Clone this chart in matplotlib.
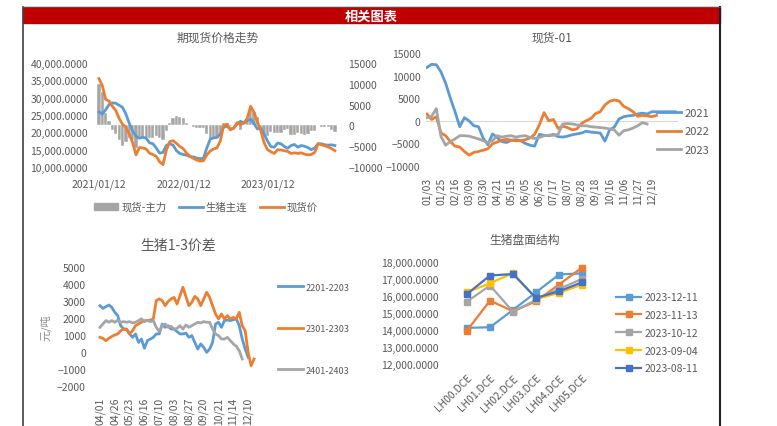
import matplotlib
matplotlib.use("Agg")
import matplotlib.pyplot as plt
import matplotlib.patches as mpatches
import matplotlib.dates as mdates
import numpy as np
import pandas as pd

plt.rcParams['font.family'] = ['Noto Sans CJK SC', 'DejaVu Sans']

BLUE = '#5B9BD5'
ORANGE = '#ED7D31'
GRAY = '#A5A5A5'
YELLOW = '#FFC000'
DBLUE = '#4472C4'
TXT = '#595959'

# ---- 期现货价格走势 (约每两周一个点, 2021/01/12 - 2023/10/27)
dates1 = pd.date_range('2021-01-12', '2023-10-27', periods=71)
futures_main = [25900, 25300, 26500, 28000, 28500, 28400, 27800, 27200, 25300, 22600,
                20400, 18900, 18300, 18600, 18300, 17000, 16700, 15500, 14000, 14200,
                16200, 16700, 16300, 14700, 13900, 13600, 13400, 13000, 12900, 12600,
                12400, 12500, 15500, 18000, 18400, 18500, 19500, 21500, 21800, 20900,
                21200, 22400, 23200, 22600, 23300, 23800, 22500, 21000, 21200, 19500,
                17500, 15900, 15700, 16900, 16700, 15900, 15400, 16200, 16500, 15700,
                16200, 16000, 15600, 15000, 15500, 16700, 16700, 16400, 16300, 16400,
                16200]
spot_price = [35500, 33500, 29500, 29000, 27500, 26300, 24000, 22300, 21500, 19500,
              17000, 13500, 15600, 15500, 15200, 14000, 13600, 13100, 11500, 10700,
              14800, 17300, 17600, 16800, 15900, 15300, 14000, 13100, 12500, 12000,
              11700, 11800, 13500, 14600, 15200, 15500, 17500, 22000, 22300, 20700,
              21300, 22800, 22200, 22800, 24000, 27500, 25800, 23000, 20500, 17000,
              15000, 14400, 13900, 15000, 14900, 14700, 14500, 13900, 14100, 13900,
              14100, 13700, 13500, 13600, 14200, 16700, 16400, 16100, 15800, 15300,
              14700]
basis = [10000, 8000, 3000, 1000, -1000, -2000, -3500, -5000, -4000, -3000,
         -3500, -5500, -2800, -3000, -3200, -3000, -3100, -2600, -3000, -3500,
         -1400, 600, 1800, 2200, 2000, 1700, 600, 100, -400, -600,
         -700, -700, -2000, -3400, -3200, -3000, -2000, 500, 500, -200,
         100, 400, -1000, 200, 700, 3700, 3300, 2000, -700, -2500,
         -2500, -1500, -1800, -1900, -1800, -1200, -900, -2300, -2400, -1800,
         -2100, -2300, -2100, -1400, -1300, 0, -300, -300, -500, -1100,
         -1500]

# ---- 现货-01 (每5个交易日一个点)
lab2 = ['01/03', '01/25', '02/16', '03/09', '03/30', '04/21', '05/15', '06/05', '06/26',
        '07/17', '08/07', '08/28', '09/18', '10/16', '11/06', '11/27', '12/19']
s2021 = [11800, 12500, 12400, 10800, 8300, 5000, 2000, -1300, 700, 0,
         -1100, -1300, -3800, -5300, -2900, -3700, -4600, -4800, -4300, -4200,
         -4400, -5000, -5400, -5600, -3000, -3200, -3300, -3000, -3500, -3600,
         -3400, -3100, -2900, -2700, -2300, -2500, -2600, -2700, -4500, -2000,
         -1400, 400, 900, 1100, 1200, 1500, 1700, 1500, 2000, 2000,
         2000, 2000, 2000, 2000]
s2022 = [1500, 300, 900, -2700, -3300, -4600, -5600, -5800, -6800, -7600,
         -7000, -6800, -6500, -6200, -5100, -4700, -4300, -4100, -4300, -4400,
         -4400, -4200, -3800, -3000, -900, 1800, 0, 300, -1700, -1200,
         -1500, -2000, -1800, -600, 0, 500, 1600, 2000, 3500, 4300,
         4600, 4400, 3200, 2700, 2000, 1000, 1200, 1100, 900, 1200]
s2023 = [700, 1000, 2700, -3500, -5400, -4600, -4000, -3300, -3300, -3400,
         -3700, -4000, -4400, -4800, -4400, -3300, -3600, -3400, -3300, -3600,
         -3400, -3300, -3700, -3900, -3700, -3300, -3200, -3200, -3000, -700,
         -600, -700, -900, -1100, -1100, -1300, -1400, -1500, -1600, -1800,
         -2000, -3200, -2200, -2000, -1600, -1100, -400, -700]

# ---- 生猪1-3价差
lab3 = ['04/01', '04/26', '05/23', '06/16', '07/10', '08/03', '08/27', '09/20',
        '10/21', '11/14', '12/10']
sp2201 = [2730, 2570, 2670, 2770, 2630, 2340, 2140, 1550, 1350, 1350,
          1060, 860, 1060, 560, 760, 210, 660, 760, 860, 1060,
          1060, 1650, 1450, 1550, 1350, 1350, 1200, 1060, 1060, 1110,
          860, 960, 560, 170, 470, 270, -30, 170, 560, 1650,
          1750, 1450, 1850, 1880, 1850, 1900, 1950, 1550, 760, 170,
          -320]
sp2301 = [860, 800, 660, 800, 910, 1000, 1060, 1250, 1350, 1310,
          1060, 1250, 1550, 1650, 1750, 1850, 1850, 1880, 1950, 3030,
          3130, 3030, 2730, 2980, 3130, 3220, 2830, 3320, 3820, 3280,
          2730, 2930, 3280, 3130, 2730, 3130, 3520, 3220, 2730, 2240,
          1950, 2240, 1950, 2140, 1950, 2040, 1950, 2340, 1550, 1250,
          -30, -820, -420]
sp2401 = [1450, 1650, 1850, 1750, 1850, 1750, 1880, 1750, 1790, 1750,
          1790, 1710, 1750, 1850, 1950, 1790, 1850, 1790, 1850, 1450,
          1200, 1550, 1650, 1450, 1510, 1350, 1390, 1550, 1350, 1590,
          1450, 1550, 1650, 1750, 1710, 1790, 1750, 1750, 1350, 1060,
          960, 760, 760, 860, 660, 470, 330, 70, -420]

# ---- 生猪盘面结构
contracts = ['LH00.DCE', 'LH01.DCE', 'LH02.DCE', 'LH03.DCE', 'LH04.DCE', 'LH05.DCE']
curve_names = ['2023-12-11', '2023-11-13', '2023-10-12', '2023-09-04', '2023-08-11']
c1211 = [14130, 14170, 15190, 16230, 17280, 17350]
c1113 = [13970, 15740, 15110, 15700, 16690, 17690]
c1012 = [15680, 16630, 15090, 15780, 16430, 17020]
c0904 = [16230, 16760, 17370, 15840, 16190, 16690]
c0811 = [16130, 17220, 17310, 15900, 16290, 16820]

W, H = 777, 427
fig = plt.figure(figsize=(W / 100, H / 100), dpi=100)


def box(l, t, r, b):
    return [l / W, 1 - b / H, (r - l) / W, (b - t) / H]


def clean(ax):
    for s in ax.spines.values():
        s.set_visible(False)
    ax.tick_params(length=0, colors=TXT, labelsize=7.5)


# 外框和标题栏
frame = fig.add_axes([0, 0, 1, 1], zorder=-5)
frame.set_xlim(0, W)
frame.set_ylim(H, 0)
frame.axis('off')
frame.add_patch(mpatches.Rectangle((23, 8), 697, 16, color='#C00000'))
frame.plot([23, 23], [8, H], color='#404040', lw=1.2)
frame.plot([720, 720], [8, H], color='#202020', lw=1.5)
frame.plot([23, 720], [8, 8], color='#505050', lw=0.8)
frame.text(371.5, 16.5, '相关图表', color='white', fontsize=9.5, fontweight='bold',
           ha='center', va='center')

# ---------------- 期现货价格走势
ax1 = fig.add_axes(box(95, 64, 340, 168))
ax1r = ax1.twinx()
ax1.set_zorder(ax1r.get_zorder() + 1)
ax1.patch.set_visible(False)
ax1r.bar(dates1, basis, width=14, color=GRAY, edgecolor='white', linewidth=0.3)
l_fut, = ax1.plot(dates1, futures_main, color=BLUE, lw=2)
l_spot, = ax1.plot(dates1, spot_price, color=ORANGE, lw=2)
ax1.set_ylim(10000, 40000)
ax1r.set_ylim(-10000, 15000)
ax1.set_yticks(np.arange(10000, 40001, 5000))
ax1.set_yticklabels([f'{v:,.4f}' for v in np.arange(10000, 40001, 5000)])
ax1r.set_yticks(np.arange(-10000, 15001, 5000))
ax1.set_xlim(pd.Timestamp('2020-12-26'), pd.Timestamp('2023-11-18'))
ax1.set_xticks(pd.to_datetime(['2021-01-12', '2022-01-12', '2023-01-12']))
ax1.xaxis.set_major_formatter(mdates.DateFormatter('%Y/%m/%d'))
clean(ax1)
clean(ax1r)
ax1.tick_params(axis='x', pad=8)
ax1.tick_params(axis='y', pad=5)
ax1r.tick_params(axis='y', pad=6)
ax1.set_title('期现货价格走势', fontsize=8.5, color=TXT, pad=16)
ax1.legend([mpatches.Patch(color=GRAY), l_fut, l_spot], ['现货-主力', '生猪主连', '现货价'],
           loc='center', bbox_to_anchor=(206 / W, 1 - 208 / H), bbox_transform=fig.transFigure,
           ncol=3, frameon=False, fontsize=7.5, handlelength=2.3, columnspacing=1.2,
           handletextpad=0.3, labelcolor=TXT)

# ---------------- 现货-01
ax2 = fig.add_axes(box(426, 54, 678, 167))
x2021 = np.arange(len(s2021)) * 5
x2022 = np.arange(len(s2022)) * 5
x2023 = np.arange(len(s2023)) * 5
ax2.axhline(0, color='#D9D9D9', lw=0.8, zorder=0)
ax2.plot(x2021, s2021, color=BLUE, lw=2, label='2021')
ax2.plot(x2022, s2022, color=ORANGE, lw=2, label='2022')
ax2.plot(x2023, s2023, color=GRAY, lw=2, label='2023')
ax2.set_ylim(-10000, 15000)
ax2.set_yticks(np.arange(-10000, 15001, 5000))
ax2.set_xlim(-1, 268)
ax2.set_xticks(np.arange(len(lab2)) * 15)
ax2.set_xticklabels(lab2, rotation=90)
clean(ax2)
ax2.tick_params(axis='x', pad=8)
ax2.tick_params(axis='y', pad=4)
ax2.set_title('现货-01', fontsize=8.5, color=TXT, pad=9)
ax2.legend(loc='upper left', bbox_to_anchor=(651 / W, 1 - 103 / H), bbox_transform=fig.transFigure,
           frameon=False, fontsize=8, handlelength=2.2, handletextpad=0.3,
           labelspacing=0.8, labelcolor=TXT, borderpad=0)

# ---------------- 生猪1-3价差
ax3 = fig.add_axes(box(97, 268.3, 260, 386.7))
ax3.plot(np.arange(len(sp2201)), sp2201, color=BLUE, lw=2, label='2201-2203')
ax3.plot(np.arange(len(sp2301)), sp2301, color=ORANGE, lw=2, label='2301-2303')
ax3.plot(np.arange(len(sp2401)), sp2401, color=GRAY, lw=2, label='2401-2403')
ax3.set_ylim(-2000, 5000)
ax3.set_yticks(np.arange(-2000, 5001, 1000))
ax3.set_xlim(-1, 54)
ax3.set_xticks(np.arange(len(lab3)) * 5)
ax3.set_xticklabels(lab3, rotation=90)
clean(ax3)
ax3.tick_params(axis='x', pad=8)
ax3.tick_params(axis='y', pad=8)
ax3.set_ylabel('元/吨', color='#8C8C8C', fontsize=8, labelpad=4)
ax3.set_title('生猪1-3价差', fontsize=10, color=TXT, pad=13)
ax3.legend(loc='upper left', bbox_to_anchor=(273 / W, 1 - 279 / H), bbox_transform=fig.transFigure,
           frameon=False, fontsize=6.5, handlelength=2.8, handletextpad=0.3,
           labelspacing=3.6, labelcolor=TXT, borderpad=0)

# ---------------- 生猪盘面结构
ax4 = fig.add_axes(box(455.5, 263.3, 593.5, 365))
xc = np.arange(len(contracts))
for vals, name, col in zip([c1211, c1113, c1012, c0904, c0811], curve_names,
                           [BLUE, ORANGE, GRAY, YELLOW, DBLUE]):
    ax4.plot(xc, vals, color=col, lw=1.6, marker='s', markersize=4, label=name)
ax4.set_ylim(12000, 18000)
ax4.set_yticks(np.arange(12000, 18001, 1000))
ax4.set_yticklabels([f'{v:,.4f}' for v in np.arange(12000, 18001, 1000)])
ax4.set_xlim(-0.5, 5.5)
ax4.set_xticks(xc)
ax4.set_xticklabels(contracts, rotation=45, ha='right', rotation_mode='anchor', fontsize=7)
clean(ax4)
ax4.tick_params(axis='x', pad=6)
ax4.tick_params(axis='y', pad=12)
ax4.set_title('生猪盘面结构', fontsize=8.5, color=TXT, pad=14)
ax4.legend(loc='upper left', bbox_to_anchor=(611 / W, 1 - 288 / H), bbox_transform=fig.transFigure,
           frameon=False, fontsize=7.5, handlelength=2.4, handletextpad=0.3,
           labelspacing=0.75, labelcolor=TXT, borderpad=0)

fig.savefig('out.png', dpi=100)
